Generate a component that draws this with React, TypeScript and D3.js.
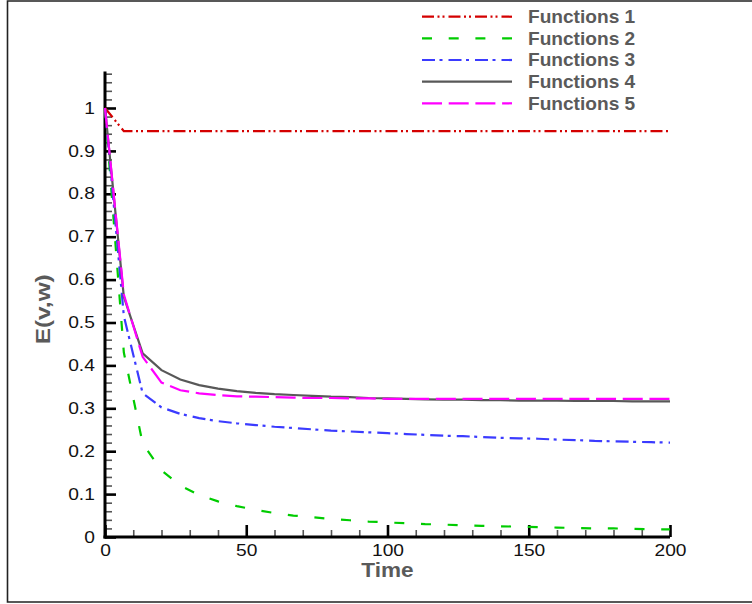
import { useEffect, useRef } from 'react'
import * as d3 from 'd3'

const TIME = [
  0, 6.67, 13.33, 20, 26.67, 33.33, 40, 46.67, 53.33, 60, 66.67, 73.33, 80, 86.67, 93.33, 100,
  106.67, 113.33, 120, 126.67, 133.33, 140, 146.67, 153.33, 160, 166.67, 173.33, 180, 186.67, 193.33, 200,
]

const F1 = [
  1.0, 0.946, 0.946, 0.946, 0.946, 0.946, 0.946, 0.946, 0.946, 0.946, 0.946, 0.946, 0.946, 0.946, 0.946, 0.946,
  0.946, 0.946, 0.946, 0.946, 0.946, 0.946, 0.946, 0.946, 0.946, 0.946, 0.946, 0.946, 0.946, 0.946, 0.946,
]
const F2 = [
  1.0, 0.43, 0.218, 0.155, 0.12, 0.098, 0.083, 0.072, 0.063, 0.056, 0.05, 0.046, 0.042, 0.039, 0.036, 0.034,
  0.032, 0.03, 0.029, 0.027, 0.026, 0.025, 0.024, 0.023, 0.022, 0.021, 0.02, 0.02, 0.019, 0.018, 0.018,
]
const F3 = [
  1.0, 0.515, 0.335, 0.302, 0.287, 0.277, 0.27, 0.265, 0.261, 0.257, 0.254, 0.251, 0.248, 0.246, 0.244, 0.242,
  0.24, 0.238, 0.236, 0.235, 0.233, 0.231, 0.23, 0.229, 0.227, 0.226, 0.224, 0.223, 0.222, 0.221, 0.22,
]
const F4 = [
  1.0, 0.56, 0.428, 0.389, 0.367, 0.354, 0.346, 0.34, 0.336, 0.333, 0.331, 0.329, 0.327, 0.326, 0.324, 0.323,
  0.322, 0.321, 0.32, 0.32, 0.319, 0.319, 0.318, 0.318, 0.318, 0.317, 0.317, 0.317, 0.316, 0.316, 0.316,
]
const F5 = [
  1.0, 0.565, 0.42, 0.36, 0.342, 0.335, 0.331, 0.328, 0.327, 0.326, 0.325, 0.324, 0.324, 0.323, 0.323, 0.322,
  0.322, 0.322, 0.322, 0.322, 0.322, 0.322, 0.322, 0.322, 0.322, 0.322, 0.322, 0.322, 0.322, 0.322, 0.322,
]

const SERIES = [
  { name: 'Functions 1', values: F1, color: '#d40000', dash: '12 3.5 2 3 2 4' },
  { name: 'Functions 2', values: F2, color: '#00cc00', dash: '10 16.7' },
  { name: 'Functions 3', values: F3, color: '#3b3bff', dash: '13 4.5 3 6' },
  { name: 'Functions 4', values: F4, color: '#585858', dash: null },
  { name: 'Functions 5', values: F5, color: '#ff00ff', dash: '20 6.7' },
]

const X_TICKS = [0, 50, 100, 150, 200]
const Y_TICKS = [0, 0.1, 0.2, 0.3, 0.4, 0.5, 0.6, 0.7, 0.8, 0.9, 1]

const W = 752
const H = 604
// Helvetica-like, but the original glyphs are a bit wider, so texts get a scaleX
const FONT = '"Liberation Sans", Arial, Helvetica, sans-serif'

export default function App() {
  const svgRef = useRef<SVGSVGElement>(null)

  useEffect(() => {
    const svgEl = svgRef.current
    if (!svgEl) return
    const svg = d3.select(svgEl)
    svg.selectAll('*').remove()

    const x = d3.scaleLinear().domain([0, 200]).range([105, 670])
    const y = d3.scaleLinear().domain([0, 1]).range([537, 108])
    const yTop = 1.085

    // outer frame
    svg.append('path')
      .attr('d', `M${W},1 H7.5 V602 H${W}`)
      .attr('fill', 'none').attr('stroke', '#222').attr('stroke-width', 1.6)

    // minor ticks
    const yMinor = d3.range(0, 1.081, 0.02).filter(v => Math.abs(v * 10 - Math.round(v * 10)) > 1e-6 || v > 1.001)
    svg.append('g')
      .attr('transform', `translate(${x(0)},0)`)
      .call(d3.axisLeft(y).tickValues(yMinor).tickSize(-7).tickFormat(() => ''))
      .call(g => g.select('.domain').remove())
      .call(g => g.selectAll('line').attr('stroke', '#555').attr('stroke-width', 1.6))

    const xMinor = d3.range(10, 200, 10).filter(v => v % 50 !== 0)
    svg.append('g')
      .attr('transform', `translate(0,${y(0)})`)
      .call(d3.axisBottom(x).tickValues(xMinor).tickSize(-7).tickFormat(() => ''))
      .call(g => g.select('.domain').remove())
      .call(g => g.selectAll('line').attr('stroke', '#555').attr('stroke-width', 1.6))

    // major ticks + labels
    svg.append('g')
      .attr('transform', `translate(${x(0)},0)`)
      .call(d3.axisLeft(y).tickValues(Y_TICKS).tickSize(-11).tickPadding(8.5).tickFormat(d => `${+d}`))
      .call(g => g.select('.domain').remove())
      .call(g => g.selectAll('line').attr('stroke', '#000').attr('stroke-width', 2.6))
      .call(g => g.selectAll('text')
        .attr('font-family', FONT).attr('font-size', 16).attr('fill', '#111')
        .attr('transform', 'scale(1.2,1)'))

    svg.append('g')
      .attr('transform', `translate(0,${y(0)})`)
      .call(d3.axisBottom(x).tickValues(X_TICKS).tickSize(-12).tickPadding(7.5).tickFormat(d => `${d}`))
      .call(g => g.select('.domain').remove())
      .call(g => g.selectAll('line').attr('stroke', '#000').attr('stroke-width', 2.6))
      .call(g => g.selectAll('text')
        .attr('font-family', FONT).attr('font-size', 16).attr('fill', '#111')
        .attr('transform', 'scale(1.2,1)'))

    // axis lines
    svg.append('line')
      .attr('x1', x(0)).attr('x2', x(0)).attr('y1', y(0) + 1.5).attr('y2', y(yTop))
      .attr('stroke', '#000').attr('stroke-width', 3)
    svg.append('line')
      .attr('x1', x(0) - 1.5).attr('x2', x(200)).attr('y1', y(0)).attr('y2', y(0))
      .attr('stroke', '#000').attr('stroke-width', 3)

    // curves
    const line = d3.line<number>()
      .x((_, i) => x(TIME[i]))
      .y(v => y(v))

    SERIES.forEach(s => {
      svg.append('path')
        .datum(s.values)
        .attr('d', line)
        .attr('fill', 'none')
        .attr('stroke', s.color)
        .attr('stroke-width', 2.2)
        .attr('stroke-dasharray', s.dash ?? null)
    })

    // axis titles
    svg.append('text')
      .attr('transform', `translate(${(x(0) + x(200)) / 2},577) scale(1.13,1)`)
      .attr('text-anchor', 'middle')
      .attr('font-family', FONT).attr('font-size', 20).attr('font-weight', 'bold').attr('fill', '#5a5a5a')
      .text('Time')

    svg.append('text')
      .attr('transform', `translate(50,${(y(0) + y(yTop)) / 2 + 5}) rotate(-90) scale(1.22,1)`)
      .attr('text-anchor', 'middle')
      .attr('font-family', FONT).attr('font-size', 20).attr('font-weight', 'bold').attr('fill', '#5a5a5a')
      .text('E(v,w)')

    // legend
    const legend = svg.append('g')
    SERIES.forEach((s, i) => {
      const ly = 16.7 + i * 21.65
      legend.append('line')
        .attr('x1', 422).attr('x2', 512).attr('y1', ly).attr('y2', ly)
        .attr('stroke', s.color).attr('stroke-width', 2.2)
        .attr('stroke-dasharray', s.dash ?? null)
      legend.append('text')
        .attr('transform', `translate(528,${ly + 6.3}) scale(1.08,1)`)
        .attr('font-family', FONT).attr('font-size', 17.7).attr('font-weight', 'bold').attr('fill', '#5a5a5a')
        .text(s.name)
    })
  }, [])

  return (
    <svg
      ref={svgRef}
      width={W}
      height={H}
      style={{ position: 'absolute', left: 0, top: 0, display: 'block', background: '#fff' }}
    />
  )
}
